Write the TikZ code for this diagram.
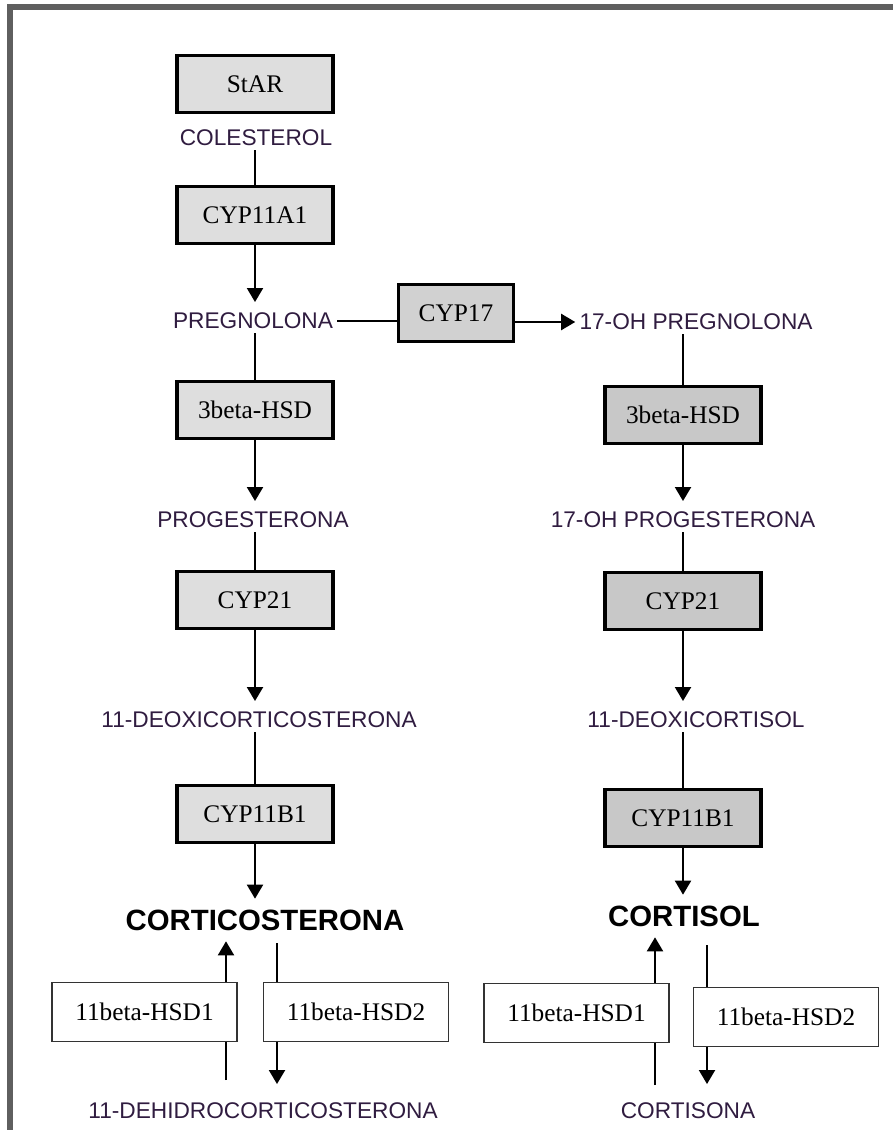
\documentclass[tikz,border=0pt]{standalone}
\usepackage{fontspec}
\setmainfont{Liberation Serif}
\setsansfont{Liberation Sans}
\usetikzlibrary{arrows.meta}

\definecolor{sustcol}{RGB}{48,28,64}
\definecolor{boxlight}{RGB}{222,222,222}
\definecolor{boxdark}{RGB}{200,200,200}
\definecolor{framegrey}{RGB}{95,95,95}

\tikzset{
  enzima/.style={draw, line width=2.6pt, fill=boxlight, minimum width=117pt,
    minimum height=42.5pt, inner sep=0pt, font=\fontsize{19}{22}\selectfont},
  enzimaosc/.style={enzima, fill=boxdark},
  hsd/.style={draw=black!80, line width=1.1pt, fill=white, minimum width=139pt,
    minimum height=44pt, font=\fontsize{19}{22}\selectfont},
  sust/.style={text=sustcol, inner sep=3pt, font=\sffamily\fontsize{17}{20}\selectfont},
  final/.style={inner sep=3pt, font=\sffamily\bfseries\fontsize{22}{25}\selectfont},
  linea/.style={line width=1.5pt},
  flecha/.style={line width=1.5pt, -{Triangle[width=12pt,length=10.5pt]}, shorten >=5pt},
}

\begin{document}
\begin{tikzpicture}[x=0.75pt, y=-0.75pt]

    % fondo y marco
    \useasboundingbox (0,0) rectangle (893,1130);
    \fill[white] (0,0) rectangle (893,1130);
    \draw[framegrey, line width=4.5pt] (10,1130) -- (10,7.5) -- (893,7.5);

    % Columna izquierda
    \node[enzima] (star) at (255,84) {StAR};
    \node[sust] (colesterol) at (256,138) {COLESTEROL};
    \node[enzima] (cyp11a1) at (255,215) {CYP11A1};
    \node[sust] (pregnolona) at (253,321) {PREGNOLONA};
    \node[enzima] (hsdiiil) at (255,410) {3beta-HSD};
    \node[sust] (progesterona) at (253,520) {PROGESTERONA};
    \node[enzima] (cyp21l) at (255,600) {CYP21};
    \node[sust] (deoxicorticosterona) at (259,720) {11-DEOXICORTICOSTERONA};
    \node[enzima] (cyp11b1l) at (255,814) {CYP11B1};
    \node[final] (corticosterona) at (265,920) {CORTICOSTERONA};
    \node[sust] (dehidro) at (263,1111) {11-DEHIDROCORTICOSTERONA};

    % CYP17
    \node[enzima, minimum width=86pt, fill=boxdark!60!boxlight] (cyp17) at (456,313) {CYP17};
    \node[sust] (ohpregnolona) at (696,322) {17-OH PREGNOLONA};

    % Columna derecha
    \node[enzimaosc] (hsdiiir) at (683,415) {3beta-HSD};
    \node[sust] (ohprogesterona) at (683,520) {17-OH PROGESTERONA};
    \node[enzimaosc] (cyp21r) at (683,601) {CYP21};
    \node[sust] (deoxicortisol) at (696,720) {11-DEOXICORTISOL};
    \node[enzimaosc] (cyp11b1r) at (683,818) {CYP11B1};
    \node[final] (cortisol) at (684,916) {CORTISOL};
    \node[sust] (cortisona) at (688,1111) {CORTISONA};

    % lineas y flechas verticales
    \foreach \a/\b in {colesterol/cyp11a1, pregnolona/hsdiiil, progesterona/cyp21l,
        deoxicorticosterona/cyp11b1l, ohpregnolona/hsdiiir, ohprogesterona/cyp21r,
        deoxicortisol/cyp11b1r}
        \draw[linea] (\a.south -| \b) -- (\b.north);
    \foreach \a/\b in {cyp11a1/pregnolona, hsdiiil/progesterona, cyp21l/deoxicorticosterona,
        cyp11b1l/corticosterona, hsdiiir/ohprogesterona, cyp21r/deoxicortisol,
        cyp11b1r/cortisol}
        \draw[flecha] (\a.south) -- (\a.south |- \b.north);

    % CYP17
    \draw[linea] (pregnolona.east) -- (pregnolona.east -| cyp17.west);
    \draw[flecha, shorten >=0pt] (cyp17.east |- ohpregnolona) -- (ohpregnolona.west);

    % 11beta-HSD
    \coordinate (ida) at (226,1080);
    \coordinate (vuelta) at (277,943);
    \coordinate (idar) at (655,1085);
    \coordinate (vueltar) at (707,945);
    \draw[flecha] (ida) -- (ida |- corticosterona.south);
    \draw[flecha, shorten >=11pt] (vuelta) -- (vuelta |- dehidro.north);
    \draw[flecha] (idar) -- (idar |- cortisol.south);
    \draw[flecha, shorten >=11pt] (vueltar) -- (vueltar |- cortisona.north);

    \node[hsd] (hsdunol) at (144.5,1012) {11beta-HSD1};
    \node[hsd] (hsddosl) at (356,1012) {11beta-HSD2};
    \node[hsd] (hsdunor) at (576.5,1013) {11beta-HSD1};
    \node[hsd] (hsddosr) at (786,1017) {11beta-HSD2};

\end{tikzpicture}
\end{document}
